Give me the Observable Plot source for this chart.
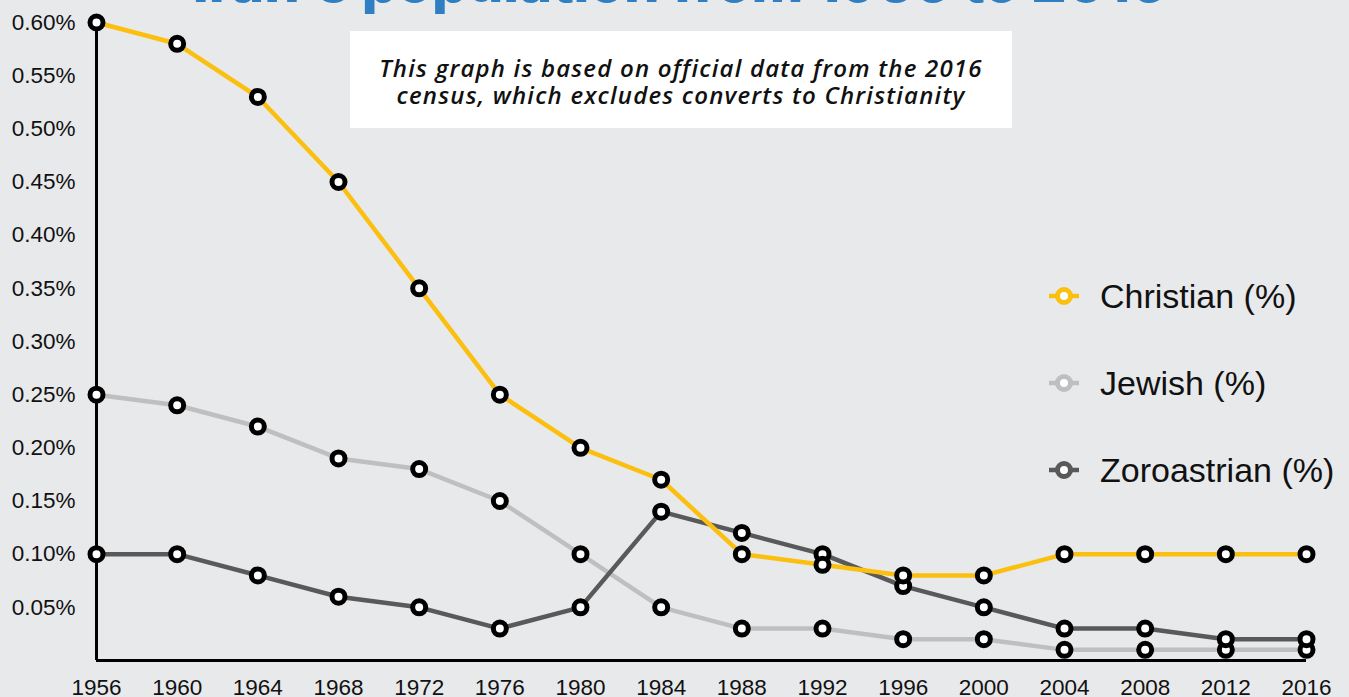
<!DOCTYPE html>
<html>
<head>
<meta charset="utf-8">
<script src="https://cdn.jsdelivr.net/npm/d3@7"></script>
<script src="https://cdn.jsdelivr.net/npm/@observablehq/plot@0.6"></script>
<style>
  html, body { margin: 0; padding: 0; background: #e8e9eb; }
  #wrap { position: relative; width: 1349px; height: 697px; overflow: hidden; background: #e8e9eb; }
  #title { position: absolute; left: 0; width: 1360px; text-align: center; top: -52px;
    font-family: Inter, "Open Sans", sans-serif; font-weight: 800; font-size: 56px; color: #2f7fc2; white-space: nowrap; }
  #note { position: absolute; left: 350px; top: 31px; width: 662px; height: 97px; background: #fff;
    font-family: "Open Sans", Lato, sans-serif; font-style: italic; font-weight: 600; font-size: 24px; letter-spacing: 1.2px;
    color: #111; text-align: center; line-height: 27px; box-sizing: border-box; padding-top: 23px; white-space: nowrap; }
  #legend { position: absolute; left: 1046px; top: 277px; font-family: "Liberation Sans", Arial, sans-serif; font-size: 34px; color: #111; }
  .item { height: 87px; display: flex; align-items: flex-start; }
  .item svg { margin-top: 8px; margin-right: 18px; }
  #chart { position: absolute; left: 0; top: 0; }
</style>
</head>
<body>
<div id="wrap">
  <div id="chart"></div>
  <div id="title">Iran's population from 1956 to 2016</div>
  <div id="note">This graph is based on official data from the 2016<br>census, which excludes converts to Christianity</div>
  <div id="legend"></div>
</div>
<script>
const years = [1956, 1960, 1964, 1968, 1972, 1976, 1980, 1984, 1988, 1992, 1996, 2000, 2004, 2008, 2012, 2016];
const christian = [0.60, 0.58, 0.53, 0.45, 0.35, 0.25, 0.20, 0.17, 0.10, 0.09, 0.08, 0.08, 0.10, 0.10, 0.10, 0.10];
const jewish = [0.25, 0.24, 0.22, 0.19, 0.18, 0.15, 0.10, 0.05, 0.03, 0.03, 0.02, 0.02, 0.01, 0.01, 0.01, 0.01];
const zoroastrian = [0.10, 0.10, 0.08, 0.06, 0.05, 0.03, 0.05, 0.14, 0.12, 0.10, 0.07, 0.05, 0.03, 0.03, 0.02, 0.02];
const seriesNames = ["Christian (%)", "Jewish (%)", "Zoroastrian (%)"];
const seriesColors = ["#fbbf10", "#bfbfbf", "#595959"];
const yTicks = [0.05, 0.10, 0.15, 0.20, 0.25, 0.30, 0.35, 0.40, 0.45, 0.50, 0.55, 0.60];

const seriesValues = [christian, jewish, zoroastrian];
const rows = [];
seriesNames.forEach((name, i) => {
  years.forEach((yr, j) => rows.push({series: name, year: yr, value: seriesValues[i][j]}));
});
// draw order: Jewish, Zoroastrian, Christian on top
const drawOrder = [1, 2, 0];

const marks = [
  Plot.ruleX([years[0]], {stroke: "#000", strokeWidth: 3}),
  Plot.ruleY([0], {stroke: "#000", strokeWidth: 3}),
  ...drawOrder.map(i => Plot.line(rows.filter(d => d.series === seriesNames[i]), {
    x: "year", y: "value", stroke: seriesColors[i], strokeWidth: 4.5, strokeLinejoin: "round"
  })),
  ...drawOrder.map(i => Plot.dot(rows.filter(d => d.series === seriesNames[i]), {
    x: "year", y: "value", r: 6.5, fill: "#fff", stroke: "#000", strokeWidth: 5
  })),
  Plot.axisY(yTicks, {tickSize: 0, tickPadding: 21, fontSize: 22.5, tickFormat: d => d.toFixed(2) + "%", fill: "#111", label: null}),
  Plot.axisX(years, {tickSize: 0, tickPadding: 19, fontSize: 22.5, tickFormat: d => String(d), fill: "#111", label: null})
];

const chart = Plot.plot({
  width: 1349,
  height: 697,
  marginLeft: 96,
  marginRight: 43,
  marginTop: 22,
  marginBottom: 37,
  style: {background: "transparent", fontFamily: "'Liberation Sans', Arial, sans-serif", overflow: "visible"},
  x: {domain: [years[0], years[years.length - 1]], type: "linear"},
  y: {domain: [0, 0.6]},
  marks
});
document.getElementById("chart").appendChild(chart);

const legend = document.getElementById("legend");
seriesNames.forEach((name, i) => {
  const item = document.createElement("div");
  item.className = "item";
  item.innerHTML = `<svg width="36" height="22" viewBox="0 0 36 22"><line x1="3" y1="11" x2="33" y2="11" stroke="${seriesColors[i]}" stroke-width="4.5"/><circle cx="18" cy="11" r="6.5" fill="#fff" stroke="${seriesColors[i]}" stroke-width="5"/></svg><span>${name}</span>`;
  legend.appendChild(item);
});
</script>
</body>
</html>
